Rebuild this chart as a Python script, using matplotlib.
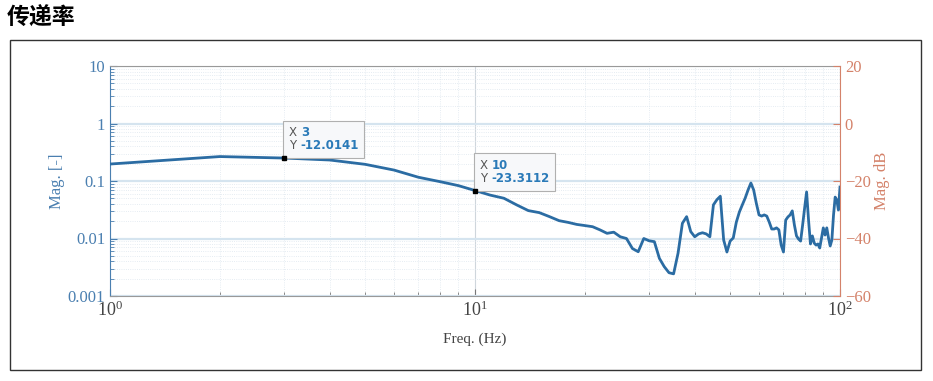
import matplotlib.pyplot as plt
from matplotlib.offsetbox import TextArea, HPacker, VPacker, AnnotationBbox
from matplotlib.patches import Rectangle
from matplotlib.ticker import LogLocator, NullFormatter, MultipleLocator

plt.rcParams['font.family'] = ['Liberation Serif', 'DejaVu Serif']
plt.rcParams['mathtext.fontset'] = 'stix'

# transmissibility, frequency in Hz and magnitude in dB
freq = list(range(1, 101))
mag_db = [-14.1, -11.5, -12.0141, -12.7, -14.2, -16.2, -18.7, -20.2, -21.6, -23.3112,
          -24.9, -26.0, -28.3, -30.3, -31.0, -32.4, -33.8, -34.4, -35.1, -35.5,
          -35.9, -37.0, -38.2, -37.8, -39.4, -40.0, -43.5, -44.6, -40.0, -40.8,
          -41.1, -46.9, -49.8, -51.9, -52.3, -45.1, -34.7, -32.4, -37.6, -39.4,
          -38.4, -38.0, -38.4, -39.4, -28.3, -26.5, -25.3, -40.5, -44.7, -40.9,
          -39.8, -34.3, -30.8, -28.3, -25.9, -23.1, -20.7, -23.1, -27.8, -31.8,
          -32.2, -31.8, -32.2, -34.3, -36.7, -36.7, -36.3, -37.0, -42.3, -44.7,
          -33.6, -32.5, -31.8, -30.4, -35.3, -39.1, -40.2, -40.9, -35.3, -29.4,
          -23.8, -33.6, -41.9, -39.1, -41.6, -42.3, -41.9, -43.3, -39.8, -36.3,
          -38.8, -36.3, -39.8, -42.6, -40.5, -31.8, -25.6, -26.6, -30.1, -22.1]
tips = [(3, -12.0141), (10, -23.3112)]

blue = '#4a7fb0'
red = '#d4826a'
line_col = '#2b6ca3'

fig = plt.figure(figsize=(9.33, 3.81), dpi=100)
fig.patches.append(Rectangle((10 / 933, 11 / 381), 911 / 933, 330 / 381, transform=fig.transFigure,
                             fill=False, edgecolor='#333333', linewidth=1.0))
fig.text(7 / 933, 1 - 18 / 381, '传递率', fontsize=16.5, fontweight='bold', va='center',
         family=['Noto Sans CJK SC', 'DejaVu Sans'])

ax = fig.add_axes([110 / 933, 85 / 381, 730 / 933, 230 / 381])
ax.set_xscale('log')
ax.set_yscale('log')
ax.set_xlim(1, 100)
ax.set_ylim(0.001, 10)
ax.set_yticks([0.001, 0.01, 0.1, 1, 10])
ax.set_yticklabels(['0.001', '0.01', '0.1', '1', '10'])
ax.yaxis.set_minor_locator(LogLocator(base=10, subs=range(2, 10)))
ax.yaxis.set_minor_formatter(NullFormatter())
ax.xaxis.set_minor_locator(LogLocator(base=10, subs=range(2, 10)))
ax.xaxis.set_minor_formatter(NullFormatter())

ax.grid(True, which='major', axis='y', color='#d5e4ef', linewidth=1.6)
ax.grid(True, which='major', axis='x', color='#cfd6dc', linewidth=0.8)
ax.grid(True, which='minor', color='#dde6ee', linewidth=0.6, linestyle=':')
ax.set_axisbelow(True)

ax.tick_params(axis='y', which='both', direction='in', colors=blue, labelsize=12)
ax.tick_params(axis='x', which='both', direction='in', colors='#777777', labelcolor='#444444',
               labelsize=13)
ax.tick_params(which='major', length=5)
ax.tick_params(which='minor', length=3)
ax.spines['left'].set_color(blue)
ax.spines['bottom'].set_color('#999999')
ax.spines['top'].set_color('#999999')
ax.spines['right'].set_visible(False)
ax.set_ylabel('Mag. [-]', color=blue, fontsize=12, labelpad=2)
ax.set_xlabel('Freq. (Hz)', color='#444444', fontsize=11, labelpad=9)

ax2 = ax.twinx()
ax2.set_ylim(-60, 20)
ax2.yaxis.set_major_locator(MultipleLocator(20))
ax2.tick_params(axis='y', direction='in', colors=red, labelsize=12, length=5)
ax2.spines['right'].set_color(red)
ax2.spines['left'].set_visible(False)
ax2.spines['top'].set_visible(False)
ax2.spines['bottom'].set_visible(False)
ax2.set_ylabel('Mag. dB', color=red, fontsize=12, labelpad=2)

ax2.plot(freq, mag_db, color=line_col, linewidth=2.0)

for fx, fy in tips:
    ax2.plot(fx, fy, 's', color='black', markersize=2.5, zorder=5)
    rows = []
    for lab, val in [('X', f'{fx:g}'), ('Y', f'{fy:.4f}')]:
        rows.append(HPacker(children=[
            TextArea(lab, textprops=dict(color='#555555', fontsize=8.5, family='DejaVu Sans')),
            TextArea(val, textprops=dict(color='#2a7ab8', fontsize=8.5, fontweight='bold',
                                         family='DejaVu Sans'))], pad=0, sep=3))
    box = VPacker(children=rows, pad=0, sep=0, align='left')
    ab = AnnotationBbox(box, (fx, fy), xybox=(3.5, 4), xycoords='data', boxcoords='offset points',
                        box_alignment=(0, 0), pad=0.4,
                        bboxprops=dict(facecolor='#f7f8fa', edgecolor='#b0b0b0', linewidth=0.8))
    ax2.add_artist(ab)

fig.savefig('out.png', dpi=100)
